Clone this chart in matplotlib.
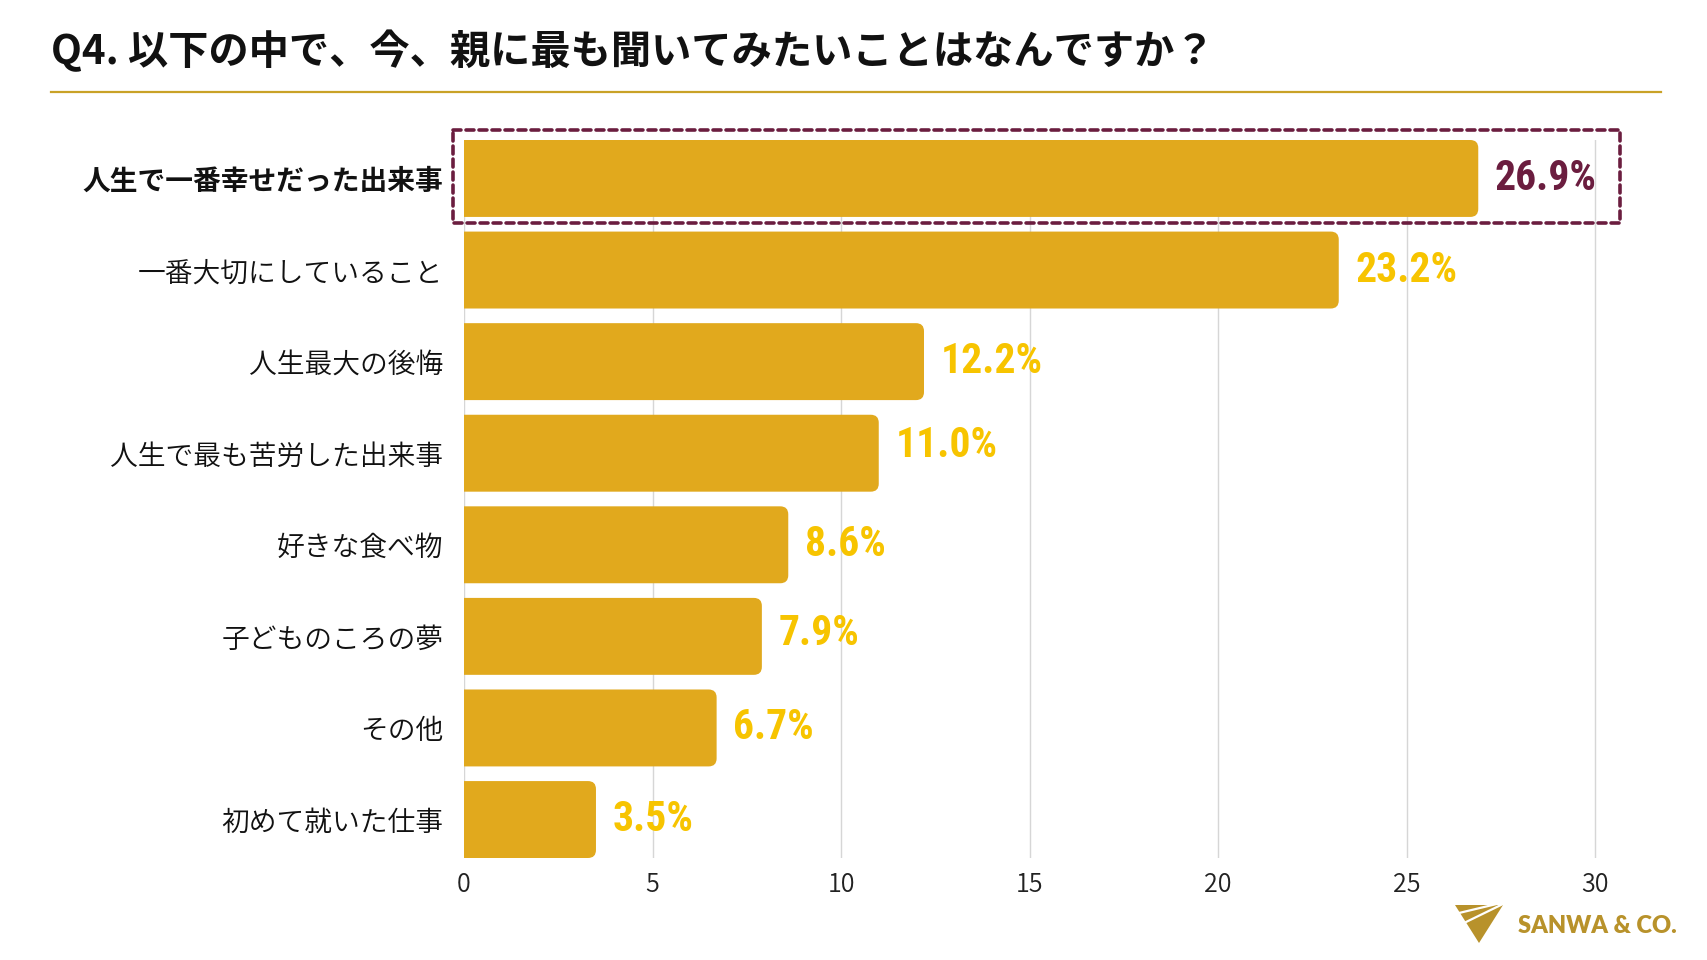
import matplotlib
matplotlib.use("Agg")
import matplotlib.pyplot as plt
from matplotlib.patches import FancyBboxPatch, Rectangle, Polygon
from matplotlib.lines import Line2D

plt.rcParams['font.family'] = ['Noto Sans CJK JP', 'DejaVu Sans']

# ------------- data -------------
categories = [
    "人生で一番幸せだった出来事",
    "一番大切にしていること",
    "人生最大の後悔",
    "人生で最も苦労した出来事",
    "好きな食べ物",
    "子どものころの夢",
    "その他",
    "初めて就いた仕事",
]
values = [26.9, 23.2, 12.2, 11.0, 8.6, 7.9, 6.7, 3.5]
value_labels = ["26.9%", "23.2%", "12.2%", "11.0%", "8.6%", "7.9%", "6.7%", "3.5%"]
xticks = [0, 5, 10, 15, 20, 25, 30]
title = "Q4. 以下の中で、今、親に最も聞いてみたいことはなんですか？"
highlight = 0

# ------------- style -------------
BAR = "#E1A91D"
VAL = "#F7C400"
MAROON = "#6B1D3F"
GOLD = "#C9A227"
LOGO = "#B8922B"
label_dy = [0, 0, 0, -8, 0, -3, 0, 0]   # small vertical nudges (px) seen in the original

W, H = 1707, 960
fig = plt.figure(figsize=(W / 100, H / 100), dpi=100)
fig.patch.set_facecolor("white")

# axes: x 0..30.5 over 464..1614 px, bars from 140 to 858 px
ax = fig.add_axes([464 / W, 1 - 858 / H, (1614 - 464) / W, (858 - 140) / H])
bar_h = 0.84
ypos = list(range(len(values)))
bars = ax.barh(ypos, values, height=bar_h, color=BAR, zorder=2)

# rounded right end; left corners fall outside xlim=0 and get clipped
px_x = 1150 / 30.5
px_y = 718 / (len(values) - 1 + bar_h)
r = 8 / px_x
for rect in bars:
    x0, y0 = rect.get_x(), rect.get_y()
    w, h = rect.get_width(), rect.get_height()
    rect.set_visible(False)
    ax.add_patch(FancyBboxPatch((x0 - 3 * r, y0), w + 3 * r, h,
                                boxstyle="round,pad=0,rounding_size=%.3f" % r,
                                mutation_aspect=px_x / px_y,
                                fc=BAR, ec="none", zorder=2))

ax.set_xlim(0, 30.5)
ax.set_ylim(len(values) - 1 + bar_h / 2, -bar_h / 2)
ax.set_xticks(xticks)
ax.set_xticklabels([str(t) for t in xticks], fontsize=18, color="#222222",
                   fontweight=350)
ax.set_yticks(ypos)
ax.set_yticklabels(categories, fontsize=20, color="#111111", fontweight=350)
for i, lab in enumerate(ax.get_yticklabels()):
    if i == highlight:
        lab.set_fontweight("bold")
ax.tick_params(axis="y", length=0, pad=15)
ax.tick_params(axis="x", length=0, pad=10)
ax.grid(axis="x", color="#D6D6D6", lw=1.0, zorder=0)
ax.set_axisbelow(True)
for s in ["top", "right", "bottom", "left"]:
    ax.spines[s].set_visible(False)

# value labels
for i, (v, t) in enumerate(zip(values, value_labels)):
    ax.annotate(t, (v, i), xytext=(12, -label_dy[i] * 0.72), textcoords="offset points",
                ha="left", va="center", fontsize=30, fontweight="bold",
                family=["Roboto Condensed", "Roboto"],
                color=MAROON if i == highlight else VAL, zorder=3)

# dashed highlight box
box = Rectangle((-0.29, highlight - 0.53), 30.95, 1.02, fill=False,
                ec=MAROON, lw=2.6, linestyle=(0, (2.2, 1.4)),
                clip_on=False, zorder=4)
box.set_capstyle("round")
ax.add_patch(box)

# title and rule
fig.text(51 / W, 1 - 52 / H, title, fontsize=29, fontweight="bold",
         ha="left", va="center", color="#111111")
fig.add_artist(Line2D([51 / W, 1661 / W], [1 - 92 / H, 1 - 92 / H],
                      color=GOLD, lw=1.6))

# logo
def fp(x, y):
    return (x / W, 1 - y / H)

fig.add_artist(Polygon([fp(1455, 905), fp(1503, 905), fp(1479, 943)],
                       closed=True, fc=LOGO, ec="none"))
fig.add_artist(Line2D([1459 / W, 1505 / W], [1 - 913 / H, 1 - 902 / H],
                      color="white", lw=1.6))
fig.add_artist(Line2D([1464 / W, 1505 / W], [1 - 923 / H, 1 - 903 / H],
                      color="white", lw=1.6))
fig.text(1518 / W, 1 - 926 / H, "SANWA & CO.", fontsize=17, fontweight="heavy",
         family=["Lato", "DejaVu Sans"], color=LOGO, ha="left", va="center")

fig.savefig("out.png", dpi=100, facecolor="white")
